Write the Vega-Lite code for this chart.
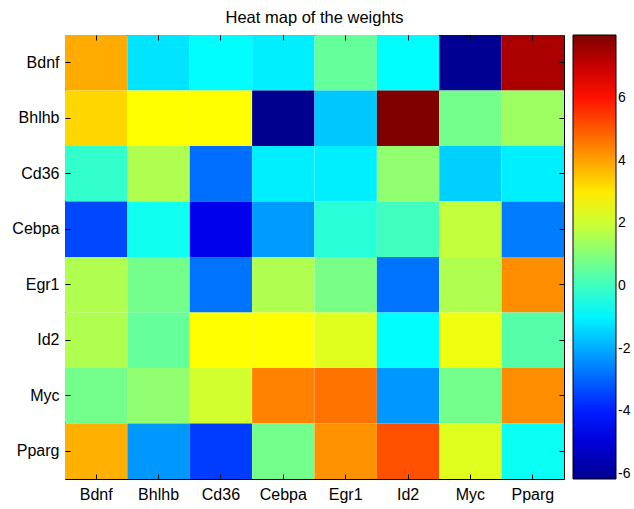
{
  "$schema": "https://vega.github.io/schema/vega-lite/v6.json",
  "width": 499,
  "height": 444,
  "autosize": "none",
  "padding": {"left": 65, "top": 35, "right": 70, "bottom": 30},
  "background": "white",
  "title": {"text": "Heat map of the weights", "font": "Liberation Sans", "fontSize": 16.5, "fontWeight": "normal", "color": "black", "offset": 8},
  "config": {
    "view": {"stroke": "black", "strokeWidth": 1},
    "axis": {"labelFont": "Liberation Sans", "labelFontSize": 16, "labelColor": "black", "tickColor": "black", "tickSize": -5, "tickWidth": 1, "domain": false, "title": null, "grid": false, "labelAngle": 0}
  },
  "data": {"values": [
    {"r": "Bdnf", "c": "Bdnf", "w": 3.88}, {"r": "Bdnf", "c": "Bhlhb", "w": -1.2}, {"r": "Bdnf", "c": "Cd36", "w": -0.86}, {"r": "Bdnf", "c": "Cebpa", "w": -1.06}, {"r": "Bdnf", "c": "Egr1", "w": 0.55}, {"r": "Bdnf", "c": "Id2", "w": -0.86}, {"r": "Bdnf", "c": "Myc", "w": -6.1}, {"r": "Bdnf", "c": "Pparg", "w": 7.43},
    {"r": "Bhlhb", "c": "Bdnf", "w": 3.26}, {"r": "Bhlhb", "c": "Bhlhb", "w": 2.7}, {"r": "Bhlhb", "c": "Cd36", "w": 2.7}, {"r": "Bhlhb", "c": "Cebpa", "w": -6.16}, {"r": "Bhlhb", "c": "Egr1", "w": -1.61}, {"r": "Bhlhb", "c": "Id2", "w": 8.02}, {"r": "Bhlhb", "c": "Myc", "w": 0.76}, {"r": "Bhlhb", "c": "Pparg", "w": 1.35},
    {"r": "Cd36", "c": "Bdnf", "w": -0.13}, {"r": "Cd36", "c": "Bhlhb", "w": 1.6}, {"r": "Cd36", "c": "Cd36", "w": -2.85}, {"r": "Cd36", "c": "Cebpa", "w": -1.06}, {"r": "Cd36", "c": "Egr1", "w": -1.06}, {"r": "Cd36", "c": "Id2", "w": 1.17}, {"r": "Cd36", "c": "Myc", "w": -1.5}, {"r": "Cd36", "c": "Pparg", "w": -1.06},
    {"r": "Cebpa", "c": "Bdnf", "w": -3.41}, {"r": "Cebpa", "c": "Bhlhb", "w": -0.63}, {"r": "Cebpa", "c": "Cd36", "w": -4.67}, {"r": "Cebpa", "c": "Cebpa", "w": -2.24}, {"r": "Cebpa", "c": "Egr1", "w": -0.29}, {"r": "Cebpa", "c": "Id2", "w": 0.06}, {"r": "Cebpa", "c": "Myc", "w": 1.87}, {"r": "Cebpa", "c": "Pparg", "w": -2.65},
    {"r": "Egr1", "c": "Bdnf", "w": 1.6}, {"r": "Egr1", "c": "Bhlhb", "w": 0.76}, {"r": "Egr1", "c": "Cd36", "w": -2.78}, {"r": "Egr1", "c": "Cebpa", "w": 1.6}, {"r": "Egr1", "c": "Egr1", "w": 0.83}, {"r": "Egr1", "c": "Id2", "w": -2.78}, {"r": "Egr1", "c": "Myc", "w": 1.6}, {"r": "Egr1", "c": "Pparg", "w": 4.3},
    {"r": "Id2", "c": "Bdnf", "w": 1.6}, {"r": "Id2", "c": "Bhlhb", "w": 0.55}, {"r": "Id2", "c": "Cd36", "w": 2.7}, {"r": "Id2", "c": "Cebpa", "w": 2.7}, {"r": "Id2", "c": "Egr1", "w": 2.28}, {"r": "Id2", "c": "Id2", "w": -0.86}, {"r": "Id2", "c": "Myc", "w": 2.49}, {"r": "Id2", "c": "Pparg", "w": 0.34},
    {"r": "Myc", "c": "Bdnf", "w": 0.76}, {"r": "Myc", "c": "Bhlhb", "w": 1.17}, {"r": "Myc", "c": "Cd36", "w": 2.07}, {"r": "Myc", "c": "Cebpa", "w": 4.45}, {"r": "Myc", "c": "Egr1", "w": 4.65}, {"r": "Myc", "c": "Id2", "w": -2.3}, {"r": "Myc", "c": "Myc", "w": 0.76}, {"r": "Myc", "c": "Pparg", "w": 4.3},
    {"r": "Pparg", "c": "Bdnf", "w": 3.81}, {"r": "Pparg", "c": "Bhlhb", "w": -2.3}, {"r": "Pparg", "c": "Cd36", "w": -3.55}, {"r": "Pparg", "c": "Cebpa", "w": 0.76}, {"r": "Pparg", "c": "Egr1", "w": 4.23}, {"r": "Pparg", "c": "Id2", "w": 5.14}, {"r": "Pparg", "c": "Myc", "w": 2.28}, {"r": "Pparg", "c": "Pparg", "w": -0.7}
  ]},
  "layer": [
    {
      "mark": {"type": "rect"},
      "encoding": {
        "x": {"field": "c", "type": "nominal", "sort": ["Bdnf", "Bhlhb", "Cd36", "Cebpa", "Egr1", "Id2", "Myc", "Pparg"], "scale": {"paddingInner": 0, "paddingOuter": 0}, "axis": {"orient": "bottom", "labelPadding": 12}},
        "y": {"field": "r", "type": "nominal", "sort": ["Bdnf", "Bhlhb", "Cd36", "Cebpa", "Egr1", "Id2", "Myc", "Pparg"], "scale": {"paddingInner": 0, "paddingOuter": 0}, "axis": {"orient": "left", "labelPadding": 11}},
        "color": {
          "field": "w", "type": "quantitative",
          "scale": {
            "domain": [-6.16, -4.3875, -2.615, -0.8425, 0.93, 2.7025, 4.475, 6.2475, 8.02],
            "range": ["#00008f", "#0000ff", "#0080ff", "#00ffff", "#80ff80", "#ffff00", "#ff8000", "#ff0000", "#800000"],
            "interpolate": "rgb", "zero": false, "nice": false
          },
          "legend": {
            "orient": "right", "offset": 8, "padding": 0, "title": null,
            "gradientLength": 444, "gradientThickness": 43,
            "gradientStrokeColor": "black", "gradientStrokeWidth": 1,
            "values": [-6, -4, -2, 0, 2, 4, 6],
            "labelExpr": "'' + datum.value",
            "labelFont": "Liberation Sans", "labelFontSize": 14, "labelColor": "black",
            "labelOffset": 2, "labelOverlap": false
          }
        }
      }
    },
    {
      "mark": {"type": "rect", "opacity": 0},
      "encoding": {
        "x": {"field": "c", "type": "nominal", "sort": ["Bdnf", "Bhlhb", "Cd36", "Cebpa", "Egr1", "Id2", "Myc", "Pparg"], "axis": {"orient": "top", "labels": false}},
        "y": {"field": "r", "type": "nominal", "sort": ["Bdnf", "Bhlhb", "Cd36", "Cebpa", "Egr1", "Id2", "Myc", "Pparg"], "axis": {"orient": "right", "labels": false}}
      }
    }
  ],
  "resolve": {"axis": {"x": "independent", "y": "independent"}}
}
